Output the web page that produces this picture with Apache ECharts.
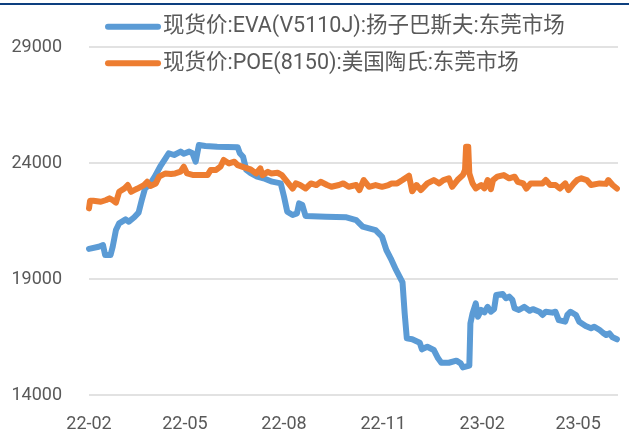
<!DOCTYPE html>
<html>
<head>
<meta charset="utf-8">
<script src="https://cdn.jsdelivr.net/npm/echarts@6/dist/echarts.min.js"></script>
<style>
  html, body { margin: 0; padding: 0; background: #fff; }
  #main { width: 629px; height: 436px; }
</style>
</head>
<body>
<div id="main"></div>
<script>
// series names
const evaName = '现货价:EVA(V5110J):扬子巴斯夫:东莞市场'
const poeName = '现货价:POE(8150):美国陶氏:东莞市场'

// EVA (blue), dates and prices
const evaDates = [
  '2022-02-01', '2022-02-10', '2022-02-14', '2022-02-16', '2022-02-21', '2022-02-23', '2022-02-26',
  '2022-03-01', '2022-03-07', '2022-03-10', '2022-03-15', '2022-03-19', '2022-03-22', '2022-03-25',
  '2022-03-29', '2022-04-03', '2022-04-08', '2022-04-13', '2022-04-16', '2022-04-21', '2022-04-27',
  '2022-04-30', '2022-05-05', '2022-05-08', '2022-05-11', '2022-05-14', '2022-05-20', '2022-05-31',
  '2022-06-19', '2022-06-21', '2022-06-24', '2022-06-27', '2022-07-01', '2022-07-07', '2022-07-13',
  '2022-07-21', '2022-07-29', '2022-08-01', '2022-08-04', '2022-08-09', '2022-08-13', '2022-08-15',
  '2022-08-18', '2022-08-21', '2022-09-09', '2022-09-28', '2022-10-07', '2022-10-13', '2022-10-25',
  '2022-10-31', '2022-11-04', '2022-11-08', '2022-11-13', '2022-11-19', '2022-11-21', '2022-11-23',
  '2022-11-28', '2022-12-05', '2022-12-07', '2022-12-12', '2022-12-18', '2022-12-22', '2022-12-25',
  '2023-01-01', '2023-01-08', '2023-01-12', '2023-01-14', '2023-01-20', '2023-01-21', '2023-01-23',
  '2023-01-26', '2023-01-28', '2023-01-31', '2023-02-03', '2023-02-06', '2023-02-09', '2023-02-12',
  '2023-02-14', '2023-02-20', '2023-02-23', '2023-02-26', '2023-03-01', '2023-03-03', '2023-03-07',
  '2023-03-12', '2023-03-17', '2023-03-20', '2023-03-26', '2023-03-29', '2023-04-01', '2023-04-07',
  '2023-04-10', '2023-04-13', '2023-04-19', '2023-04-21', '2023-04-24', '2023-04-29', '2023-05-02',
  '2023-05-08', '2023-05-13', '2023-05-16', '2023-05-21', '2023-05-24', '2023-05-27', '2023-05-30',
  '2023-06-02', '2023-06-06'
]
const evaValues = [
  20300, 20390, 20460, 20030, 20030, 20390, 21110,
  21400, 21570, 21470, 21660, 21860, 22400, 22900,
  23050, 23410, 23840, 24200, 24420, 24345, 24490,
  24400, 24490, 24420, 24060, 24775, 24730, 24700,
  24675, 24420, 24270, 23700, 23560, 23410, 23340,
  23195, 23120, 22550, 21900, 21760, 21830, 22260,
  22190, 21715, 21685, 21660, 21540, 21255, 21110,
  20820, 20250, 19890, 19390, 18850, 17520, 16440,
  16400, 16250, 15970, 16080, 15940, 15580, 15390,
  15390, 15480, 15365, 15190, 15265, 17090, 17520,
  17950, 17375, 17665, 17560, 17800, 17590, 17700,
  18310, 18350, 18170, 18240, 18100, 17740, 17665,
  17800, 17630, 17700, 17590, 17450, 17590, 17550,
  17590, 17230, 17160, 17450, 17590, 17450, 17160,
  16975, 16875, 16945, 16800, 16685, 16585, 16660,
  16485, 16400
]

// POE (orange)
const poeDates = [
  '2022-02-01', '2022-02-02', '2022-02-05', '2022-02-12', '2022-02-17', '2022-02-20', '2022-02-23',
  '2022-02-26', '2022-03-01', '2022-03-06', '2022-03-09', '2022-03-12', '2022-03-15', '2022-03-18',
  '2022-03-24', '2022-03-27', '2022-03-30', '2022-04-04', '2022-04-07', '2022-04-13', '2022-04-18',
  '2022-04-22', '2022-04-27', '2022-04-30', '2022-05-03', '2022-05-09', '2022-05-16', '2022-05-22',
  '2022-05-25', '2022-05-30', '2022-06-03', '2022-06-06', '2022-06-11', '2022-06-16', '2022-06-19',
  '2022-06-25', '2022-07-01', '2022-07-06', '2022-07-10', '2022-07-12', '2022-07-17', '2022-07-20',
  '2022-07-26', '2022-07-30', '2022-08-04', '2022-08-09', '2022-08-12', '2022-08-16', '2022-08-21',
  '2022-08-26', '2022-08-31', '2022-09-04', '2022-09-10', '2022-09-14', '2022-09-21', '2022-09-25',
  '2022-09-30', '2022-10-07', '2022-10-10', '2022-10-14', '2022-10-19', '2022-10-25', '2022-10-31',
  '2022-11-06', '2022-11-09', '2022-11-14', '2022-11-19', '2022-11-25', '2022-11-28', '2022-12-02',
  '2022-12-06', '2022-12-12', '2022-12-18', '2022-12-23', '2022-12-27', '2023-01-01', '2023-01-04',
  '2023-01-09', '2023-01-14', '2023-01-16', '2023-01-17', '2023-01-19', '2023-01-20', '2023-01-23',
  '2023-01-26', '2023-01-31', '2023-02-03', '2023-02-06', '2023-02-09', '2023-02-11', '2023-02-15',
  '2023-02-21', '2023-02-26', '2023-03-03', '2023-03-06', '2023-03-11', '2023-03-14', '2023-03-18',
  '2023-03-29', '2023-04-01', '2023-04-05', '2023-04-10', '2023-04-14', '2023-04-19', '2023-04-22',
  '2023-04-27', '2023-04-30', '2023-05-04', '2023-05-09', '2023-05-13', '2023-05-21', '2023-05-27',
  '2023-05-29', '2023-06-02', '2023-06-06'
]
const poeValues = [
  22045, 22375, 22375, 22330, 22405, 22475, 22400,
  22290, 22760, 22905, 23050, 22760, 22830, 22900,
  23050, 23190, 23010, 23120, 23410, 23550, 23525,
  23550, 23625, 23840, 23550, 23480, 23480, 23480,
  23700, 23700, 23840, 24130, 23980, 24055, 23910,
  23810, 23725, 23550, 23770, 23480, 23620, 23550,
  23580, 23480, 23190, 22900, 23120, 23050, 22900,
  23120, 23050, 23190, 23050, 22975, 23050, 23120,
  22975, 23050, 22835, 23265, 22975, 23050, 22975,
  23050, 23120, 23120, 23265, 23450, 22780, 23050,
  22835, 23120, 23265, 23120, 23265, 23340, 22975,
  23265, 23480, 23700, 24700, 24700, 23550, 23120,
  22905, 23050, 22905, 23265, 22870, 23265, 23410,
  23480, 23340, 23410, 23190, 23120, 22900, 23120,
  23120, 23265, 23050, 23050, 22900, 23120, 22835,
  23120, 23265, 23340, 23265, 23050, 23120, 23100,
  23265, 23050, 22900
]

// axis
const xStart = '2022-02-01'
const xEnd = '2023-06-07'
const xTickDates = ['2022-02-01', '2022-05-01', '2022-08-01', '2022-11-01', '2023-02-01', '2023-05-01']
const yMin = 14000
const yMax = 29000
const yStep = 5000

const toTime = s => +new Date(s.replace(/-/g, '/'))
const pairs = (dates, vals) => dates.map((d, i) => [toTime(d), vals[i]])

const font = 'Roboto, "Noto Sans CJK SC", sans-serif'
const capsule = 'path://M3,0 L53,0 A3,3 0 0 1 53,6 L3,6 A3,3 0 0 1 3,0 Z'

const chart = echarts.init(document.getElementById('main'))
chart.setOption({
  backgroundColor: '#ffffff',
  animation: false,
  graphic: [
    {
      type: 'rect',
      left: 0,
      top: 3,
      shape: { width: 629, height: 2 },
      style: { fill: '#0d3f7f' }
    }
  ],
  legend: {
    orient: 'vertical',
    left: 100,
    top: 11,
    itemWidth: 56,
    itemHeight: 6,
    itemGap: 15,
    icon: capsule,
    textStyle: {
      color: '#595959',
      fontSize: 21.5,
      fontFamily: font,
      padding: [0, 0, 0, -3]
    },
    data: [evaName, poeName]
  },
  grid: {
    left: 89,
    right: 11,
    top: 47,
    bottom: 41,
    containLabel: false
  },
  xAxis: {
    type: 'value',
    min: toTime(xStart),
    max: toTime(xEnd),
    axisLine: { show: false },
    axisTick: { show: false },
    splitLine: { show: false },
    axisLabel: {
      customValues: xTickDates.map(toTime),
      color: '#595959',
      fontSize: 18,
      fontFamily: font,
      margin: 21,
      formatter: function (v) {
        const d = new Date(v)
        const yy = String(d.getFullYear()).slice(2)
        const mm = String(d.getMonth() + 1).padStart(2, '0')
        return yy + '-' + mm
      }
    }
  },
  yAxis: {
    type: 'value',
    min: yMin,
    max: yMax,
    interval: yStep,
    axisLine: { show: false },
    axisTick: { show: false },
    axisLabel: {
      color: '#595959',
      fontSize: 18,
      fontFamily: font,
      margin: 27,
      formatter: v => String(v)
    },
    splitLine: {
      lineStyle: { color: '#d9d9d9', width: 1.5 }
    }
  },
  series: [
    {
      name: evaName,
      type: 'line',
      showSymbol: false,
      symbol: 'none',
      color: '#5b9bd5',
      lineStyle: { width: 6, cap: 'round', join: 'round' },
      data: pairs(evaDates, evaValues)
    },
    {
      name: poeName,
      type: 'line',
      showSymbol: false,
      symbol: 'none',
      color: '#ed7d31',
      lineStyle: { width: 6, cap: 'round', join: 'round' },
      data: pairs(poeDates, poeValues)
    }
  ]
})
</script>
</body>
</html>
